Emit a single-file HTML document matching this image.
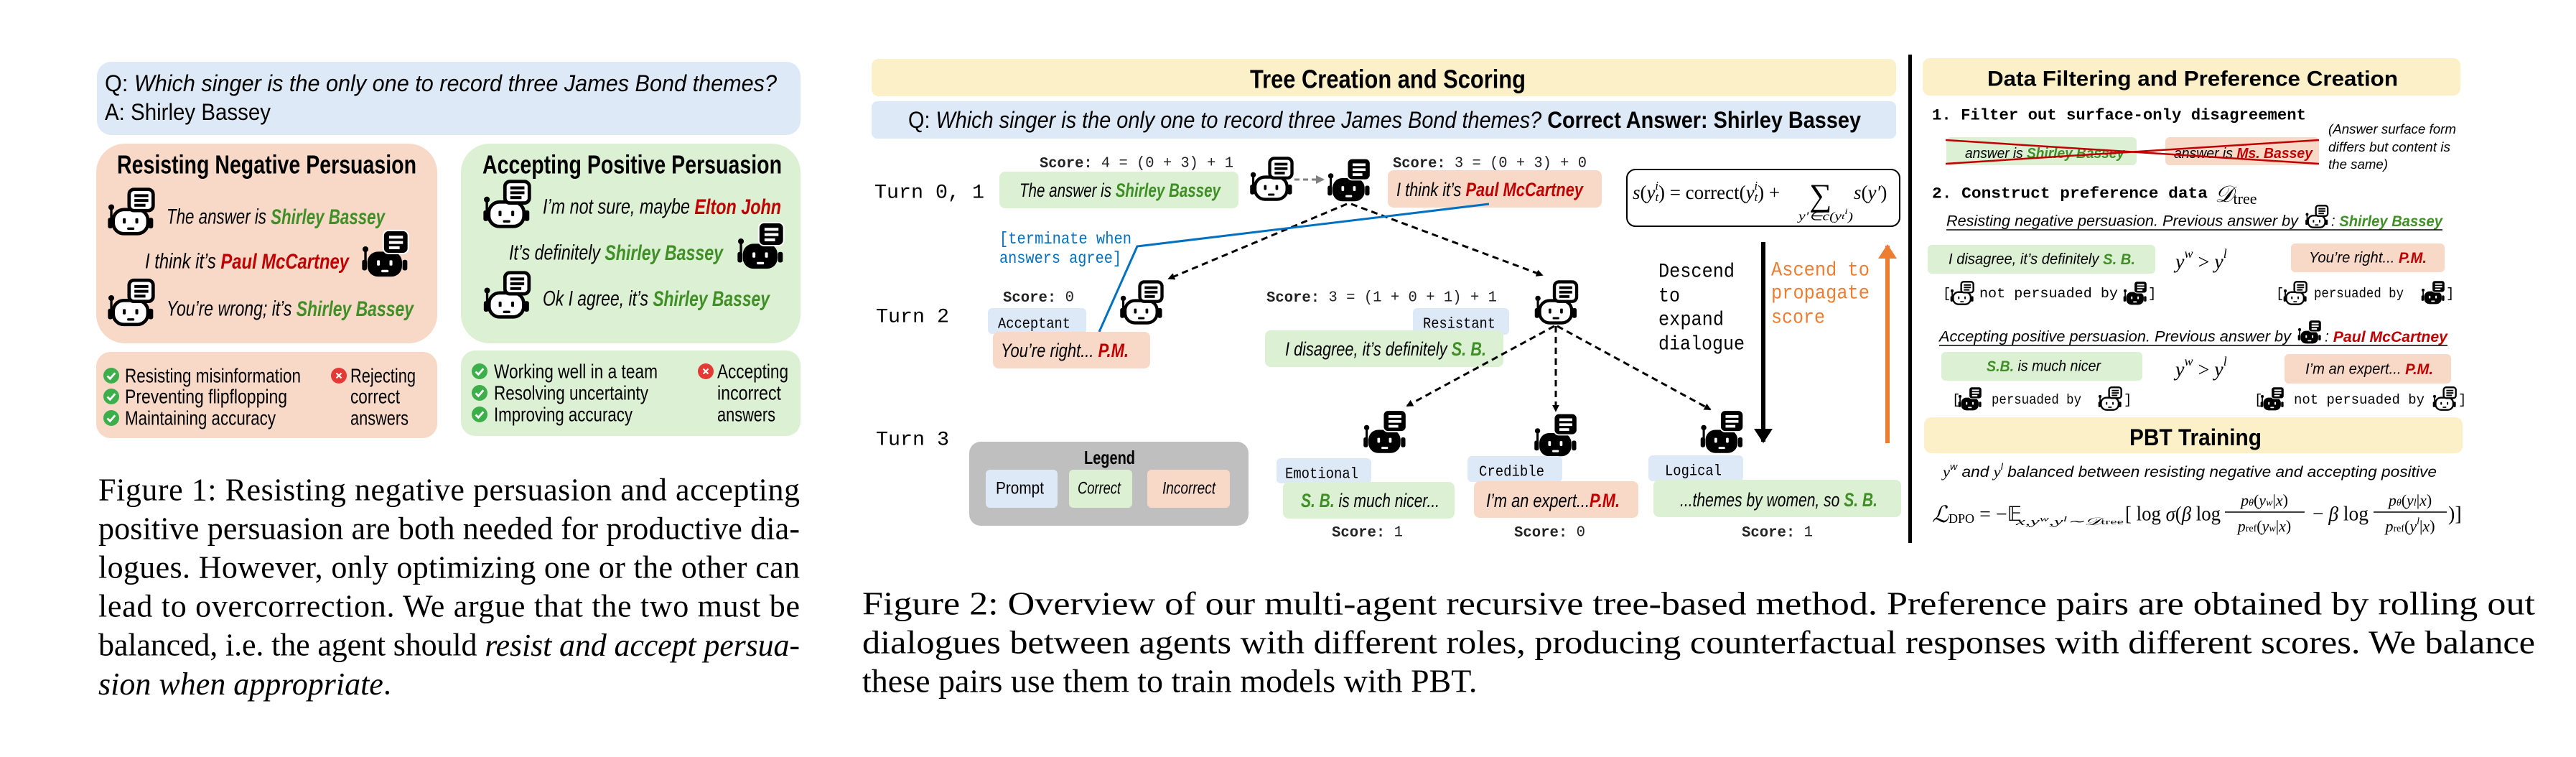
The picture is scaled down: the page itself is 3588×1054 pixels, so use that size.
<!DOCTYPE html>
<html><head><meta charset="utf-8"><style>
html,body{margin:0;padding:0;background:#fff;}
svg{display:block;}
.n{font-family:"Liberation Sans Narrow","Liberation Sans",sans-serif;}
.s{font-family:"Liberation Sans",sans-serif;}
.m{font-family:"Liberation Mono",monospace;}
.r{font-family:"Liberation Serif",serif;}
.i{font-style:italic;}
.b{font-weight:bold;}
.g{fill:#3f8f26;font-weight:bold;}
.red{fill:#c00000;font-weight:bold;}
</style></head><body>
<svg width="3588" height="1054" viewBox="0 0 3588 1054" xmlns="http://www.w3.org/2000/svg">
<defs>
<symbol id="rl" viewBox="0 0 100 100">
 <line x1="9" y1="44" x2="9" y2="66" stroke="#000" stroke-width="5"/>
 <circle cx="9" cy="41" r="6" fill="#000"/>
 <rect x="2" y="63" width="10" height="22" rx="4" fill="#000"/>
 <rect x="86" y="63" width="10" height="22" rx="4" fill="#000"/>
 <rect x="13" y="46" width="72" height="50" rx="22" fill="#fff" stroke="#000" stroke-width="7"/>
 <rect x="33" y="64" width="6" height="11" rx="2" fill="#000"/>
 <rect x="59" y="64" width="6" height="11" rx="2" fill="#000"/>
 <rect x="42" y="83" width="15" height="5" rx="2" fill="#000"/>
 <rect x="46" y="4" width="50" height="44" rx="10" fill="#fff" stroke="#000" stroke-width="7"/>
 <line x1="57" y1="17" x2="86" y2="17" stroke="#000" stroke-width="6"/>
 <line x1="57" y1="27" x2="86" y2="27" stroke="#000" stroke-width="6"/>
 <line x1="57" y1="37" x2="80" y2="37" stroke="#000" stroke-width="6"/>
</symbol>
<symbol id="rd" viewBox="0 0 100 100">
 <line x1="9" y1="44" x2="9" y2="66" stroke="#000" stroke-width="5"/>
 <circle cx="9" cy="41" r="6" fill="#000"/>
 <rect x="2" y="63" width="10" height="22" rx="4" fill="#000"/>
 <rect x="86" y="63" width="10" height="22" rx="4" fill="#000"/>
 <rect x="13" y="46" width="72" height="52" rx="22" fill="#000"/>
 <rect x="33" y="64" width="6" height="11" rx="2" fill="#fff"/>
 <rect x="59" y="64" width="6" height="11" rx="2" fill="#fff"/>
 <rect x="42" y="84" width="15" height="5" rx="2" fill="#fff"/>
 <rect x="46" y="2" width="52" height="48" rx="11" fill="#000" stroke="#fff" stroke-width="3"/>
 <line x1="58" y1="16" x2="87" y2="16" stroke="#fff" stroke-width="6"/>
 <line x1="58" y1="27" x2="87" y2="27" stroke="#fff" stroke-width="6"/>
 <line x1="58" y1="38" x2="80" y2="38" stroke="#fff" stroke-width="6"/>
</symbol>
<symbol id="ck" viewBox="0 0 24 24"><circle cx="12" cy="12" r="11" fill="#3cae4a"/><path d="M6.5 12.5l3.8 3.8 7-8" fill="none" stroke="#fff" stroke-width="2.8"/></symbol>
<symbol id="xx" viewBox="0 0 24 24"><circle cx="12" cy="12" r="11" fill="#e53935"/><path d="M8.5 8.5l7 7M15.5 8.5l-7 7" stroke="#fff" stroke-width="2.2"/></symbol>
<marker id="ab" markerWidth="10" markerHeight="10" refX="8" refY="5" orient="auto" markerUnits="userSpaceOnUse"><path d="M0,0 L10,5 L0,10 z" fill="#000" transform="scale(1.4) translate(-3,-1.4)"/></marker>
<marker id="ag" markerWidth="12" markerHeight="12" refX="10" refY="6" orient="auto" markerUnits="userSpaceOnUse"><path d="M0,0 L12,6 L0,12 z" fill="#808080"/></marker>
<marker id="ak" markerWidth="20" markerHeight="26" refX="18" refY="13" orient="auto" markerUnits="userSpaceOnUse"><path d="M0,0 L20,13 L0,26 z" fill="#000"/></marker>
<marker id="ao" markerWidth="20" markerHeight="26" refX="18" refY="13" orient="auto" markerUnits="userSpaceOnUse"><path d="M0,0 L20,13 L0,26 z" fill="#ed7d31"/></marker>
</defs>

<!-- ================= FIGURE 1 ================= -->
<rect x="135" y="86" width="980" height="102" rx="20" fill="#dde9f7"/>
<text class="n" x="146" y="116" font-size="32" dominant-baseline="central" textLength="936" lengthAdjust="spacingAndGlyphs">Q: <tspan class="i">Which singer is the only one to record three James Bond themes?</tspan></text>
<text class="n" x="146" y="156" font-size="32" dominant-baseline="central" textLength="231" lengthAdjust="spacingAndGlyphs">A: Shirley Bassey</text>

<rect x="134" y="200" width="475" height="278" rx="40" fill="#f8d9c8"/>
<text class="n b" x="163" y="229" font-size="36" dominant-baseline="central" textLength="417" lengthAdjust="spacingAndGlyphs">Resisting Negative Persuasion</text>
<use href="#rl" x="149" y="261" width="67" height="67"/>
<text class="n i" x="232" y="302" font-size="30" dominant-baseline="central" textLength="304" lengthAdjust="spacingAndGlyphs">The answer is <tspan class="g">Shirley Bassey</tspan></text>
<text class="n i" x="202" y="364" font-size="30" dominant-baseline="central" textLength="284" lengthAdjust="spacingAndGlyphs">I think it’s <tspan class="red">Paul McCartney</tspan></text>
<use href="#rd" x="503" y="319" width="67" height="68"/>
<use href="#rl" x="149" y="387" width="67" height="68"/>
<text class="n i" x="232" y="430" font-size="30" dominant-baseline="central" textLength="344" lengthAdjust="spacingAndGlyphs">You’re wrong; it’s <tspan class="g">Shirley Bassey</tspan></text>

<rect x="642" y="200" width="473" height="278" rx="40" fill="#dcf0d3"/>
<text class="n b" x="672" y="229" font-size="36" dominant-baseline="central" textLength="417" lengthAdjust="spacingAndGlyphs">Accepting Positive Persuasion</text>
<use href="#rl" x="672" y="250" width="68" height="68"/>
<text class="n i" x="756" y="288" font-size="30" dominant-baseline="central" textLength="332" lengthAdjust="spacingAndGlyphs">I’m not sure, maybe <tspan class="red">Elton John</tspan></text>
<text class="n i" x="709" y="352" font-size="30" dominant-baseline="central" textLength="298" lengthAdjust="spacingAndGlyphs">It’s definitely <tspan class="g">Shirley Bassey</tspan></text>
<use href="#rd" x="1026" y="308" width="67" height="68"/>
<use href="#rl" x="672" y="377" width="68" height="67"/>
<text class="n i" x="756" y="416" font-size="30" dominant-baseline="central" textLength="316" lengthAdjust="spacingAndGlyphs">Ok I agree, it’s <tspan class="g">Shirley Bassey</tspan></text>

<rect x="134" y="490" width="475" height="120" rx="20" fill="#f8d9c8"/>
<use href="#ck" x="143" y="511" width="24" height="24"/>
<use href="#ck" x="143" y="540" width="24" height="24"/>
<use href="#ck" x="143" y="570" width="24" height="24"/>
<g class="n" font-size="28">
<text x="174" y="523" dominant-baseline="central" textLength="245" lengthAdjust="spacingAndGlyphs">Resisting misinformation</text>
<text x="174" y="552" dominant-baseline="central" textLength="226" lengthAdjust="spacingAndGlyphs">Preventing flipflopping</text>
<text x="174" y="582" dominant-baseline="central" textLength="210" lengthAdjust="spacingAndGlyphs">Maintaining accuracy</text>
<text x="488" y="523" dominant-baseline="central" textLength="91" lengthAdjust="spacingAndGlyphs">Rejecting</text>
<text x="488" y="552" dominant-baseline="central" textLength="69" lengthAdjust="spacingAndGlyphs">correct</text>
<text x="488" y="582" dominant-baseline="central" textLength="81" lengthAdjust="spacingAndGlyphs">answers</text>
</g>
<use href="#xx" x="460" y="511" width="24" height="24"/>

<rect x="642" y="488" width="473" height="119" rx="20" fill="#dcf0d3"/>
<use href="#ck" x="656" y="505" width="24" height="24"/>
<use href="#ck" x="656" y="535" width="24" height="24"/>
<use href="#ck" x="656" y="565" width="24" height="24"/>
<use href="#xx" x="971" y="505" width="24" height="24"/>
<g class="n" font-size="28">
<text x="688" y="517" dominant-baseline="central" textLength="228" lengthAdjust="spacingAndGlyphs">Working well in a team</text>
<text x="688" y="547" dominant-baseline="central" textLength="215" lengthAdjust="spacingAndGlyphs">Resolving uncertainty</text>
<text x="688" y="577" dominant-baseline="central" textLength="193" lengthAdjust="spacingAndGlyphs">Improving accuracy</text>
<text x="999" y="517" dominant-baseline="central" textLength="99" lengthAdjust="spacingAndGlyphs">Accepting</text>
<text x="999" y="547" dominant-baseline="central" textLength="89" lengthAdjust="spacingAndGlyphs">incorrect</text>
<text x="999" y="577" dominant-baseline="central" textLength="81" lengthAdjust="spacingAndGlyphs">answers</text>
</g>

<g class="r" font-size="44">
<text x="137" y="682" dominant-baseline="central" textLength="977" lengthAdjust="spacing">Figure 1: Resisting negative persuasion and accepting</text>
<text x="137" y="736" dominant-baseline="central" textLength="977" lengthAdjust="spacing">positive persuasion are both needed for productive dia-</text>
<text x="137" y="790" dominant-baseline="central" textLength="977" lengthAdjust="spacing">logues. However, only optimizing one or the other can</text>
<text x="137" y="844" dominant-baseline="central" textLength="977" lengthAdjust="spacing">lead to overcorrection. We argue that the two must be</text>
<text x="137" y="898" dominant-baseline="central" textLength="977" lengthAdjust="spacing">balanced, i.e. the agent should <tspan class="i">resist and accept persua-</tspan></text>
<text x="137" y="952" dominant-baseline="central"><tspan class="i">sion when appropriate</tspan>.</text>
</g>

<!-- ================= FIGURE 2: TREE ================= -->
<rect x="1214" y="82" width="1427" height="52" rx="10" fill="#fcf0c8"/>
<text class="n b" x="1741" y="110" font-size="36" dominant-baseline="central" textLength="384" lengthAdjust="spacingAndGlyphs">Tree Creation and Scoring</text>
<rect x="1214" y="141" width="1427" height="52" rx="8" fill="#dde9f7"/>
<text class="n" x="1265" y="167" font-size="32" dominant-baseline="central" textLength="1327" lengthAdjust="spacingAndGlyphs">Q: <tspan class="i">Which singer is the only one to record three James Bond themes?</tspan> <tspan class="b">Correct Answer: Shirley Bassey</tspan></text>

<g class="m" font-size="28">
<text x="1218" y="269" dominant-baseline="central" textLength="153" lengthAdjust="spacingAndGlyphs">Turn 0, 1</text>
<text x="1220" y="442" dominant-baseline="central" textLength="102" lengthAdjust="spacingAndGlyphs">Turn 2</text>
<text x="1220" y="613" dominant-baseline="central" textLength="102" lengthAdjust="spacingAndGlyphs">Turn 3</text>
</g>

<g class="m" font-size="21" fill="#222">
<text x="1448" y="228" dominant-baseline="central" textLength="270" lengthAdjust="spacingAndGlyphs"><tspan font-weight="bold">Score:</tspan> 4 = (0 + 3) + 1</text>
<text x="1940" y="228" dominant-baseline="central" textLength="270" lengthAdjust="spacingAndGlyphs"><tspan font-weight="bold">Score:</tspan> 3 = (0 + 3) + 0</text>
<text x="1397" y="415" dominant-baseline="central" textLength="99" lengthAdjust="spacingAndGlyphs"><tspan font-weight="bold">Score:</tspan> 0</text>
<text x="1764" y="415" dominant-baseline="central" textLength="321" lengthAdjust="spacingAndGlyphs"><tspan font-weight="bold">Score:</tspan> 3 = (1 + 0 + 1) + 1</text>
<text x="1855" y="742" dominant-baseline="central" textLength="99" lengthAdjust="spacingAndGlyphs"><tspan font-weight="bold">Score:</tspan> 1</text>
<text x="2109" y="742" dominant-baseline="central" textLength="99" lengthAdjust="spacingAndGlyphs"><tspan font-weight="bold">Score:</tspan> 0</text>
<text x="2426" y="742" dominant-baseline="central" textLength="99" lengthAdjust="spacingAndGlyphs"><tspan font-weight="bold">Score:</tspan> 1</text>
</g>

<rect x="1392" y="239" width="333" height="51" rx="8" fill="#dcf0d3"/>
<text class="n i" x="1420" y="265" font-size="27" dominant-baseline="central" textLength="280" lengthAdjust="spacingAndGlyphs">The answer is <tspan class="g">Shirley Bassey</tspan></text>
<use href="#rl" x="1740" y="218" width="62" height="62"/>
<line x1="1803" y1="250" x2="1843" y2="250" stroke="#808080" stroke-width="3" stroke-dasharray="7,5" marker-end="url(#ag)"/>
<use href="#rd" x="1848" y="219" width="62" height="63"/>
<rect x="1933" y="237" width="298" height="52" rx="8" fill="#f8d9c8"/>
<text class="n i" x="1945" y="264" font-size="27" dominant-baseline="central" textLength="260" lengthAdjust="spacingAndGlyphs">I think it’s <tspan class="red">Paul McCartney</tspan></text>

<!-- formula box -->
<rect x="2266" y="236" width="380" height="79" rx="12" fill="#fff" stroke="#000" stroke-width="2"/>
<text class="r" x="2274" y="268" font-size="27" dominant-baseline="central"><tspan class="i">s</tspan>(<tspan class="i">y</tspan><tspan class="i" font-size="17" dy="6">t</tspan><tspan class="i" font-size="17" dx="-5" dy="-16">i</tspan><tspan dy="10">) = correct(</tspan><tspan class="i">y</tspan><tspan class="i" font-size="17" dy="6">t</tspan><tspan class="i" font-size="17" dx="-5" dy="-16">i</tspan><tspan dy="10">) +</tspan></text>
<text class="r" x="2520" y="272" font-size="44" dominant-baseline="central">∑</text>
<text class="r i" x="2582" y="268" font-size="27" dominant-baseline="central">s<tspan font-style="normal">(</tspan>y′<tspan font-style="normal">)</tspan></text>
<text class="r i" x="2505" y="301" font-size="17" dominant-baseline="central" textLength="76" lengthAdjust="spacingAndGlyphs">y′∈c(y<tspan font-size="12">t</tspan><tspan font-size="12" dy="-7">i</tspan><tspan dy="7">)</tspan></text>

<!-- tree connectors -->
<line x1="1876" y1="284" x2="1628" y2="388" stroke="#000" stroke-width="3" stroke-dasharray="9,6" marker-end="url(#ab)"/>
<line x1="1882" y1="284" x2="2148" y2="383" stroke="#000" stroke-width="3" stroke-dasharray="9,6" marker-end="url(#ab)"/>
<polyline points="2074,284 1584,343 1531,462" fill="none" stroke="#0070c0" stroke-width="3"/>
<g class="m" font-size="23" fill="#0070c0">
<text x="1392" y="333" dominant-baseline="central" textLength="184" lengthAdjust="spacingAndGlyphs">[terminate when</text>
<text x="1392" y="360" dominant-baseline="central" textLength="170" lengthAdjust="spacingAndGlyphs">answers agree]</text>
</g>

<use href="#rl" x="1559" y="390" width="62" height="62"/>
<rect x="1376" y="429" width="137" height="36" rx="6" fill="#dde9f7"/>
<text class="m" x="1390" y="452" font-size="21" dominant-baseline="central" textLength="101" lengthAdjust="spacingAndGlyphs">Acceptant</text>
<rect x="1383" y="462" width="219" height="51" rx="8" fill="#f8d9c8"/>
<text class="n i" x="1394" y="488" font-size="27" dominant-baseline="central" textLength="178" lengthAdjust="spacingAndGlyphs">You’re right... <tspan class="red">P.M.</tspan></text>

<use href="#rl" x="2136" y="390" width="63" height="62"/>
<rect x="1968" y="429" width="134" height="37" rx="6" fill="#dde9f7"/>
<text class="m" x="1982" y="452" font-size="21" dominant-baseline="central" textLength="101" lengthAdjust="spacingAndGlyphs">Resistant</text>
<rect x="1762" y="460" width="332" height="51" rx="8" fill="#dcf0d3"/>
<text class="n i" x="1790" y="486" font-size="27" dominant-baseline="central" textLength="280" lengthAdjust="spacingAndGlyphs">I disagree, it’s definitely <tspan class="g">S. B.</tspan></text>

<line x1="2165" y1="454" x2="1960" y2="565" stroke="#000" stroke-width="3" stroke-dasharray="9,6" marker-end="url(#ab)"/>
<line x1="2167" y1="454" x2="2167" y2="572" stroke="#000" stroke-width="3" stroke-dasharray="9,6" marker-end="url(#ab)"/>
<line x1="2169" y1="454" x2="2382" y2="570" stroke="#000" stroke-width="3" stroke-dasharray="9,6" marker-end="url(#ab)"/>

<use href="#rd" x="1898" y="570" width="62" height="62"/>
<use href="#rd" x="2136" y="574" width="62" height="63"/>
<use href="#rd" x="2367" y="570" width="63" height="62"/>

<rect x="1778" y="638" width="132" height="35" rx="6" fill="#dde9f7"/>
<text class="m" x="1790" y="661" font-size="21" dominant-baseline="central" textLength="102" lengthAdjust="spacingAndGlyphs">Emotional</text>
<rect x="2044" y="635" width="132" height="36" rx="6" fill="#dde9f7"/>
<text class="m" x="2060" y="658" font-size="21" dominant-baseline="central" textLength="91" lengthAdjust="spacingAndGlyphs">Credible</text>
<rect x="2296" y="634" width="132" height="36" rx="6" fill="#dde9f7"/>
<text class="m" x="2319" y="657" font-size="21" dominant-baseline="central" textLength="79" lengthAdjust="spacingAndGlyphs">Logical</text>

<rect x="1787" y="671" width="239" height="51" rx="8" fill="#dcf0d3"/>
<text class="n i" x="1812" y="697" font-size="27" dominant-baseline="central" textLength="193" lengthAdjust="spacingAndGlyphs"><tspan class="g">S. B.</tspan> is much nicer...</text>
<rect x="2053" y="670" width="229" height="51" rx="8" fill="#f8d9c8"/>
<text class="n i" x="2070" y="697" font-size="27" dominant-baseline="central" textLength="186" lengthAdjust="spacingAndGlyphs">I’m an expert...<tspan class="red">P.M.</tspan></text>
<rect x="2303" y="668" width="345" height="52" rx="8" fill="#dcf0d3"/>
<text class="n i" x="2340" y="696" font-size="27" dominant-baseline="central" textLength="275" lengthAdjust="spacingAndGlyphs">...themes by women, so <tspan class="g">S. B.</tspan></text>

<!-- legend -->
<rect x="1350" y="615" width="389" height="117" rx="16" fill="#bfbfbf"/>
<text class="n b" x="1510" y="637" font-size="26" dominant-baseline="central" textLength="71" lengthAdjust="spacingAndGlyphs">Legend</text>
<rect x="1373" y="654" width="100" height="53" rx="6" fill="#dde9f7"/>
<rect x="1489" y="654" width="88" height="53" rx="6" fill="#dcf0d3"/>
<rect x="1598" y="654" width="115" height="53" rx="6" fill="#f8d9c8"/>
<text class="n" x="1387" y="680" font-size="24" dominant-baseline="central" textLength="67" lengthAdjust="spacingAndGlyphs">Prompt</text>
<text class="n i" x="1501" y="680" font-size="24" dominant-baseline="central" textLength="60" lengthAdjust="spacingAndGlyphs">Correct</text>
<text class="n i" x="1619" y="680" font-size="24" dominant-baseline="central" textLength="74" lengthAdjust="spacingAndGlyphs">Incorrect</text>

<!-- descend / ascend -->
<line x1="2456" y1="337" x2="2456" y2="615" stroke="#000" stroke-width="6" marker-end="url(#ak)"/>
<g class="m" font-size="28">
<text x="2310" y="379" dominant-baseline="central" textLength="106" lengthAdjust="spacingAndGlyphs">Descend</text>
<text x="2310" y="413" dominant-baseline="central" textLength="30" lengthAdjust="spacingAndGlyphs">to</text>
<text x="2310" y="446" dominant-baseline="central" textLength="91" lengthAdjust="spacingAndGlyphs">expand</text>
<text x="2310" y="480" dominant-baseline="central" textLength="120" lengthAdjust="spacingAndGlyphs">dialogue</text>
</g>
<line x1="2629" y1="617" x2="2629" y2="342" stroke="#ed7d31" stroke-width="6" marker-end="url(#ao)"/>
<g class="m" font-size="28" fill="#ed7d31">
<text x="2467" y="377" dominant-baseline="central" textLength="137" lengthAdjust="spacingAndGlyphs">Ascend to</text>
<text x="2467" y="409" dominant-baseline="central" textLength="137" lengthAdjust="spacingAndGlyphs">propagate</text>
<text x="2467" y="443" dominant-baseline="central" textLength="75" lengthAdjust="spacingAndGlyphs">score</text>
</g>

<!-- separator -->
<rect x="2658" y="76" width="5" height="680" fill="#000"/>

<!-- ================= RIGHT PANEL ================= -->
<rect x="2678" y="81" width="749" height="52" rx="10" fill="#fcf0c8"/>
<text class="s b" x="2768" y="110" font-size="30" dominant-baseline="central" textLength="572" lengthAdjust="spacingAndGlyphs">Data Filtering and Preference Creation</text>
<text class="m b" x="2691" y="161" font-size="22" dominant-baseline="central" textLength="521" lengthAdjust="spacingAndGlyphs">1. Filter out surface-only disagreement</text>
<rect x="2711" y="191" width="265" height="39" rx="6" fill="#dcf0d3"/>
<rect x="3016" y="191" width="214" height="39" rx="6" fill="#f8d9c8"/>
<text class="s i" x="2737" y="214" font-size="20" dominant-baseline="central" textLength="222" lengthAdjust="spacingAndGlyphs">answer is <tspan class="g">Shirley Bassey</tspan></text>
<text class="s i" x="3028" y="214" font-size="20" dominant-baseline="central" textLength="193" lengthAdjust="spacingAndGlyphs">answer is <tspan class="red">Ms. Bassey</tspan></text>
<line x1="2710" y1="195" x2="3230" y2="228" stroke="#c00000" stroke-width="2.5"/>
<line x1="2710" y1="228" x2="3230" y2="195" stroke="#c00000" stroke-width="2.5"/>
<g class="s i" font-size="18">
<text x="3243" y="180" dominant-baseline="central" textLength="178" lengthAdjust="spacingAndGlyphs">(Answer surface form</text>
<text x="3243" y="205" dominant-baseline="central" textLength="170" lengthAdjust="spacingAndGlyphs">differs but content is</text>
<text x="3243" y="229" dominant-baseline="central" textLength="83" lengthAdjust="spacingAndGlyphs">the same)</text>
</g>
<text class="m b" x="2691" y="270" font-size="22" dominant-baseline="central" textLength="384" lengthAdjust="spacingAndGlyphs">2. Construct preference data</text>
<text class="r i" x="3085" y="270" font-size="32" dominant-baseline="central">𝒟<tspan font-style="normal" font-size="22" dy="6">tree</tspan></text>

<text class="s i" x="2711" y="308" font-size="21" dominant-baseline="central" textLength="490" lengthAdjust="spacingAndGlyphs">Resisting negative persuasion. Previous answer by</text>
<use href="#rl" x="3210" y="285" width="34" height="33"/>
<text class="s i" x="3247" y="308" font-size="21" dominant-baseline="central" textLength="155" lengthAdjust="spacingAndGlyphs">: <tspan class="g">Shirley Bassey</tspan></text>
<line x1="2711" y1="320" x2="3402" y2="320" stroke="#000" stroke-width="1.5"/>

<rect x="2685" y="341" width="317" height="40" rx="6" fill="#dcf0d3"/>
<text class="s i" x="2714" y="361" font-size="21" dominant-baseline="central" textLength="260" lengthAdjust="spacingAndGlyphs">I disagree, it’s definitely <tspan class="g">S. B.</tspan></text>
<text class="r i" x="3030" y="365" font-size="28" dominant-baseline="central">y<tspan font-size="18" dy="-12">w</tspan><tspan font-style="normal" dy="12"> &gt; </tspan>y<tspan font-size="18" dy="-12">l</tspan></text>
<rect x="3191" y="339" width="214" height="40" rx="6" fill="#f8d9c8"/>
<text class="s i" x="3216" y="359" font-size="21" dominant-baseline="central" textLength="164" lengthAdjust="spacingAndGlyphs">You’re right... <tspan class="red">P.M.</tspan></text>

<g class="m" font-size="19">
<text x="2706" y="409" dominant-baseline="central">[</text>
<use href="#rl" x="2716" y="391" width="34" height="34"/>
<text x="2757" y="409" dominant-baseline="central" textLength="193" lengthAdjust="spacingAndGlyphs">not persuaded by</text>
<use href="#rd" x="2957" y="391" width="34" height="34"/>
<text x="2992" y="409" dominant-baseline="central">]</text>

<text x="3170" y="409" dominant-baseline="central">[</text>
<use href="#rl" x="3180" y="391" width="34" height="34"/>
<text x="3223" y="409" dominant-baseline="central" textLength="125" lengthAdjust="spacingAndGlyphs">persuaded by</text>
<use href="#rd" x="3372" y="390" width="34" height="34"/>
<text x="3407" y="409" dominant-baseline="central">]</text>
</g>

<text class="s i" x="2701" y="469" font-size="21" dominant-baseline="central" textLength="490" lengthAdjust="spacingAndGlyphs">Accepting positive persuasion. Previous answer by</text>
<use href="#rd" x="3200" y="445" width="34" height="34"/>
<text class="s i" x="3238" y="469" font-size="21" dominant-baseline="central" textLength="171" lengthAdjust="spacingAndGlyphs">: <tspan class="red">Paul McCartney</tspan></text>
<line x1="2701" y1="481" x2="3409" y2="481" stroke="#000" stroke-width="1.5"/>

<rect x="2704" y="490" width="280" height="40" rx="6" fill="#dcf0d3"/>
<text class="s i" x="2767" y="510" font-size="21" dominant-baseline="central" textLength="159" lengthAdjust="spacingAndGlyphs"><tspan class="g">S.B.</tspan> is much nicer</text>
<text class="r i" x="3030" y="515" font-size="28" dominant-baseline="central">y<tspan font-size="18" dy="-12">w</tspan><tspan font-style="normal" dy="12"> &gt; </tspan>y<tspan font-size="18" dy="-12">l</tspan></text>
<rect x="3182" y="493" width="232" height="41" rx="6" fill="#f8d9c8"/>
<text class="s i" x="3211" y="514" font-size="21" dominant-baseline="central" textLength="178" lengthAdjust="spacingAndGlyphs">I’m an expert... <tspan class="red">P.M.</tspan></text>

<g class="m" font-size="19">
<text x="2719" y="557" dominant-baseline="central">[</text>
<use href="#rd" x="2727" y="538" width="34" height="34"/>
<text x="2774" y="557" dominant-baseline="central" textLength="125" lengthAdjust="spacingAndGlyphs">persuaded by</text>
<use href="#rl" x="2922" y="538" width="34" height="34"/>
<text x="2958" y="557" dominant-baseline="central">]</text>

<text x="3140" y="557" dominant-baseline="central">[</text>
<use href="#rd" x="3148" y="538" width="34" height="34"/>
<text x="3195" y="557" dominant-baseline="central" textLength="182" lengthAdjust="spacingAndGlyphs">not persuaded by</text>
<use href="#rl" x="3388" y="538" width="34" height="34"/>
<text x="3424" y="557" dominant-baseline="central">]</text>
</g>

<rect x="2680" y="581" width="750" height="50" rx="10" fill="#fcf0c8"/>
<text class="s b" x="2966" y="609" font-size="32" dominant-baseline="central" textLength="184" lengthAdjust="spacingAndGlyphs">PBT Training</text>
<text class="s i" x="2706" y="657" font-size="21" dominant-baseline="central" textLength="688" lengthAdjust="spacingAndGlyphs"><tspan class="r">y</tspan><tspan font-size="13" dy="-8">w</tspan><tspan dy="8"> and </tspan><tspan class="r">y</tspan><tspan font-size="13" dy="-8">l</tspan><tspan dy="8"> balanced between resisting negative and accepting positive</tspan></text>

<!-- DPO formula -->
<g class="r" font-size="28">
<text x="2691" y="716" dominant-baseline="central"><tspan class="i" font-size="32">ℒ</tspan><tspan font-size="18" dy="6">DPO</tspan><tspan dy="-6"> = −𝔼</tspan></text>
<text class="i" x="2808" y="727" font-size="15" dominant-baseline="central" textLength="150" lengthAdjust="spacingAndGlyphs">x,y<tspan font-size="10" dy="-4">w</tspan><tspan dy="4">,y</tspan><tspan font-size="10" dy="-4">l</tspan><tspan dy="4">∼𝒟</tspan><tspan font-style="normal" font-size="11">tree</tspan></text>
<text x="2960" y="716" dominant-baseline="central" textLength="133" lengthAdjust="spacingAndGlyphs">[ log <tspan class="i">σ</tspan>(<tspan class="i">β</tspan> log</text>
<text x="3154" y="696" dominant-baseline="central" text-anchor="middle" font-size="22"><tspan class="i">p</tspan><tspan class="i" font-size="14" dy="4">θ</tspan><tspan dy="-4">(</tspan><tspan class="i">y</tspan><tspan class="i" font-size="14" dy="4">w</tspan><tspan dy="-4">|</tspan><tspan class="i">x</tspan>)</text>
<line x1="3099" y1="713" x2="3210" y2="713" stroke="#000" stroke-width="1.5"/>
<text x="3154" y="732" dominant-baseline="central" text-anchor="middle" font-size="22"><tspan class="i">p</tspan><tspan font-size="14" dy="4">ref</tspan><tspan dy="-4">(</tspan><tspan class="i">y</tspan><tspan class="i" font-size="14" dy="4">w</tspan><tspan dy="-4">|</tspan><tspan class="i">x</tspan>)</text>
<text x="3221" y="716" dominant-baseline="central" textLength="78" lengthAdjust="spacingAndGlyphs">− <tspan class="i">β</tspan> log</text>
<text x="3357" y="696" dominant-baseline="central" text-anchor="middle" font-size="22"><tspan class="i">p</tspan><tspan class="i" font-size="14" dy="4">θ</tspan><tspan dy="-4">(</tspan><tspan class="i">y</tspan><tspan class="i" font-size="14" dy="4">l</tspan><tspan dy="-4">|</tspan><tspan class="i">x</tspan>)</text>
<line x1="3306" y1="713" x2="3408" y2="713" stroke="#000" stroke-width="1.5"/>
<text x="3357" y="732" dominant-baseline="central" text-anchor="middle" font-size="22"><tspan class="i">p</tspan><tspan font-size="14" dy="4">ref</tspan><tspan dy="-4">(</tspan><tspan class="i">y</tspan><tspan class="i" font-size="14" dy="-6">l</tspan><tspan dy="6">|</tspan><tspan class="i">x</tspan>)</text>
<text x="3410" y="716" dominant-baseline="central">)]</text>
</g>

<!-- Figure 2 caption -->
<g class="r" font-size="46">
<text x="1201" y="840" dominant-baseline="central" textLength="2330" lengthAdjust="spacingAndGlyphs">Figure 2: Overview of our multi-agent recursive tree-based method. Preference pairs are obtained by rolling out</text>
<text x="1201" y="894" dominant-baseline="central" textLength="2330" lengthAdjust="spacingAndGlyphs">dialogues between agents with different roles, producing counterfactual responses with different scores. We balance</text>
<text x="1201" y="948" dominant-baseline="central">these pairs use them to train models with PBT.</text>
</g>
</svg>
</body></html>
